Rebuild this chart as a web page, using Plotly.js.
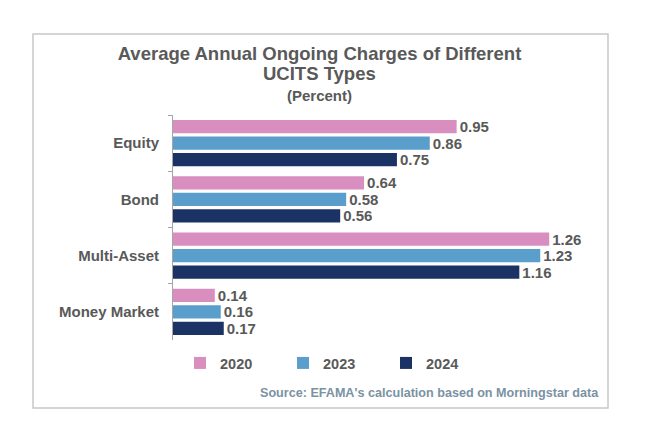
<!DOCTYPE html>
<html>
<head>
<meta charset="utf-8">
<script src="https://cdn.plot.ly/plotly-3.0.1.min.js"></script>
<style>
html,body{margin:0;padding:0;background:#fff;}
#chart{width:654px;height:446px;}
</style>
</head>
<body>
<div id="chart"></div>
<script>
const categories = ["Equity", "Bond", "Multi-Asset", "Money Market"];
const years = ["2020", "2023", "2024"];
const values2020 = [0.95, 0.64, 1.26, 0.14];
const values2023 = [0.86, 0.58, 1.23, 0.16];
const values2024 = [0.75, 0.56, 1.16, 0.17];
const colors = ["#D98EC0", "#5A9FCC", "#1B3264"];

const series = [values2020, values2023, values2024];
const FONT = "Liberation Sans, Arial, sans-serif";
const GREY = "#595959";

const traces = series.map((vals, i) => ({
  type: "bar",
  orientation: "h",
  name: years[i],
  y: categories,
  x: vals,
  marker: {color: colors[i]},
  text: vals.map(v => v.toFixed(2)),
  textposition: "outside",
  constraintext: "none",
  textfont: {family: FONT, size: 15, color: GREY, weight: "bold"},
  cliponaxis: false,
  hoverinfo: "x+name"
}));

// plot area: x 173..591, y 115..340
const L = 173, R = 591, T = 115, B = 340;
const W = 654, H = 446;
const pw = R - L, ph = B - T;
const px = x => (x - L) / pw;
const py = y => (B - y) / ph;

const layout = {
  width: W, height: H,
  margin: {l: L, r: W - R, t: T, b: H - B, pad: 0},
  paper_bgcolor: "#fff",
  plot_bgcolor: "#fff",
  font: {family: FONT, color: GREY},
  barmode: "group",
  bargap: 0.12,
  bargroupgap: 0.19,
  showlegend: true,
  title: {
    text: "Average Annual Ongoing Charges of Different",
    font: {family: FONT, size: 18.5, color: GREY, weight: "bold"},
    xref: "container", x: 319.5 / W, xanchor: "center",
    yref: "container", y: 1 - 54 / H, yanchor: "middle"
  },
  xaxis: {
    range: [0, 1.4],
    showticklabels: false, showgrid: false, zeroline: false, showline: false,
    fixedrange: true
  },
  yaxis: {
    autorange: "reversed",
    type: "category",
    showline: true, linecolor: "#A6A6A6", linewidth: 1,
    ticks: "outside", tickson: "boundaries", ticklen: 4, tickcolor: "#A6A6A6",
    tickfont: {family: FONT, size: 15, color: GREY, weight: "bold"},
    ticklabelstandoff: 10,
    showgrid: false, zeroline: false
  },
  legend: {
    orientation: "h",
    x: px(180), xanchor: "left",
    y: py(347), yanchor: "top",
    entrywidth: 58,
    font: {family: FONT, size: 14.5, color: GREY, weight: "bold"},
    itemclick: false, itemdoubleclick: false,
    tracegroupgap: 0
  },
  annotations: [
    {
      text: "UCITS Types", showarrow: false,
      xref: "paper", yref: "paper", x: px(319.5), y: py(74),
      xanchor: "center", yanchor: "middle",
      font: {family: FONT, size: 18.5, color: GREY, weight: "bold"}
    },
    {
      text: "(Percent)", showarrow: false,
      xref: "paper", yref: "paper", x: px(319), y: py(96),
      xanchor: "center", yanchor: "middle",
      font: {family: FONT, size: 15, color: GREY, weight: "bold"}
    },
    {
      text: "Source: EFAMA's calculation based on Morningstar data", showarrow: false,
      xref: "paper", yref: "paper", x: px(601), y: py(393),
      xanchor: "right", yanchor: "middle",
      font: {family: FONT, size: 12.6, color: "#7A92A3", weight: "bold"}
    }
  ],
  shapes: [
    {
      type: "rect", xref: "paper", yref: "paper",
      x0: px(33), x1: px(608), y0: py(34), y1: py(408),
      line: {color: "#C8C8C8", width: 1.5}, fillcolor: "rgba(0,0,0,0)",
      layer: "below"
    }
  ]
};

Plotly.newPlot("chart", traces, layout, {displayModeBar: false, staticPlot: true});
</script>
</body>
</html>
